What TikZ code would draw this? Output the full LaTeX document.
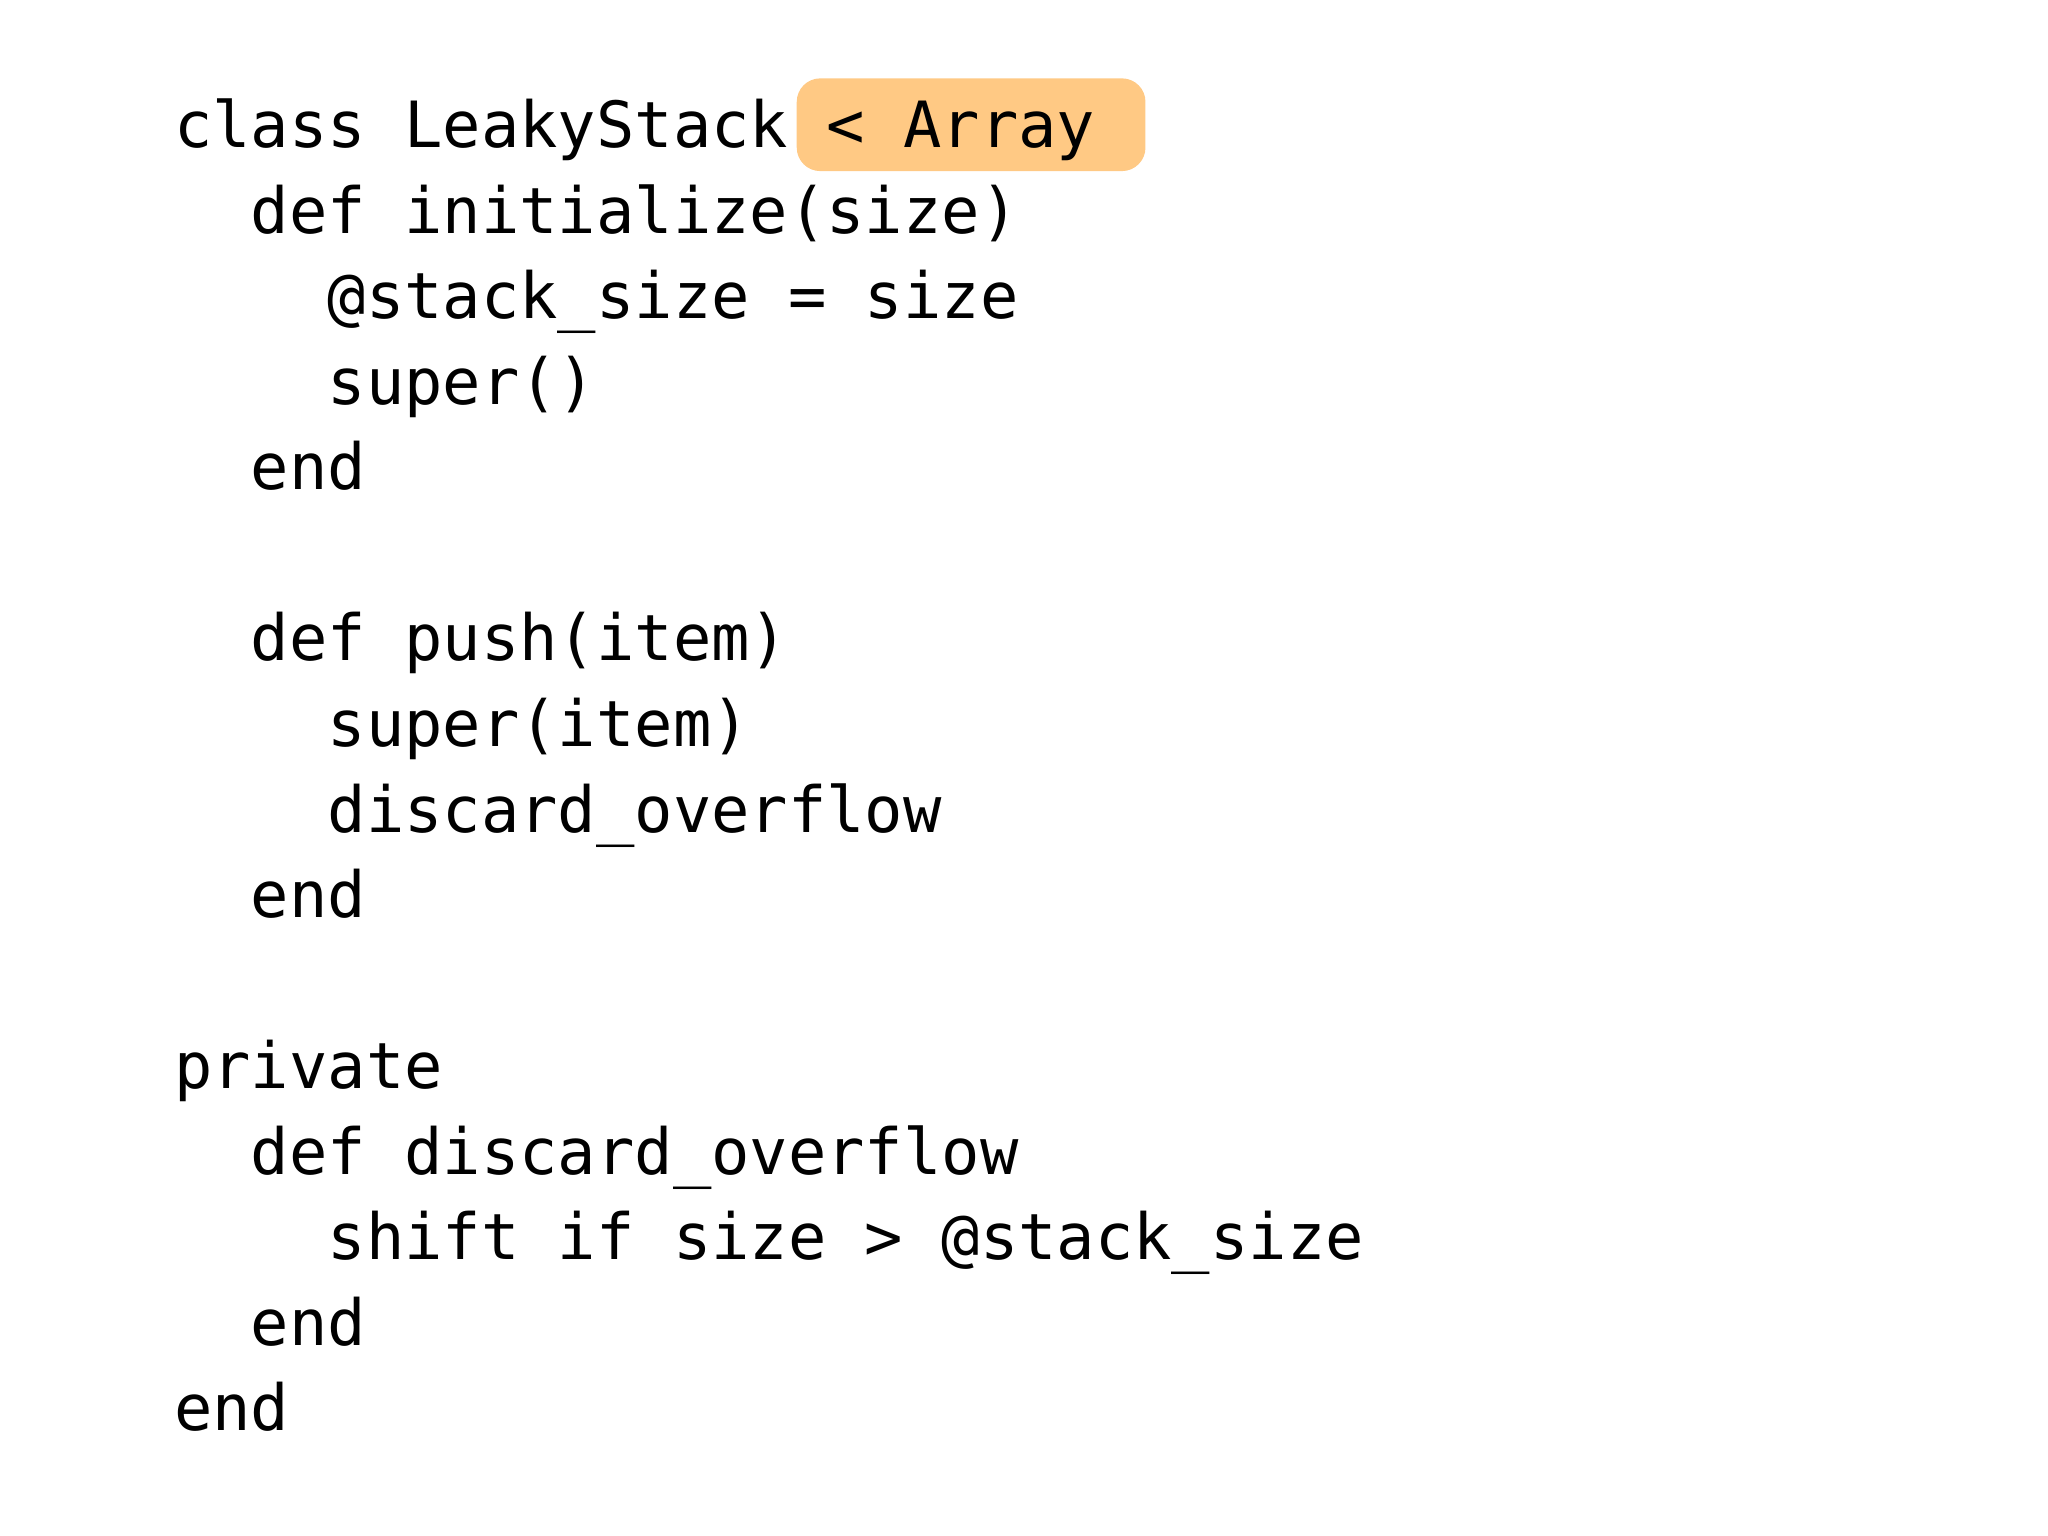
\documentclass[tikz,border=0pt]{standalone}
\usepackage{fontspec}
\setmonofont{DejaVu Sans Mono}
\definecolor{hl}{HTML}{FFC984}
\tikzset{code/.style={anchor=base west,inner sep=0pt,font=\ttfamily\fontsize{24.4pt}{30pt}\selectfont,text=black}}
\begin{document}
\begin{tikzpicture}[x=0.5pt,y=-0.5pt]
\useasboundingbox (0,0) rectangle (1568,1176);
\fill[hl,rounded corners=9pt] (610,60) rectangle (877,131);
\node[code] (l0) at (133,113) {class LeakyStack < Array};
\node[code] (l1) at (133,178.5) {\ \ def initialize(size)};
\node[code] (l2) at (133,244) {\ \ \ \ @stack\_size = size};
\node[code] (l3) at (133,309.5) {\ \ \ \ super()};
\node[code] (l4) at (133,375) {\ \ end};
\node[code] (l6) at (133,506) {\ \ def push(item)};
\node[code] (l7) at (133,571.5) {\ \ \ \ super(item)};
\node[code] (l8) at (133,637) {\ \ \ \ discard\_overflow};
\node[code] (l9) at (133,702.5) {\ \ end};
\node[code] (l11) at (133,833.5) {private};
\node[code] (l12) at (133,899) {\ \ def discard\_overflow};
\node[code] (l13) at (133,964.5) {\ \ \ \ shift if size > @stack\_size};
\node[code] (l14) at (133,1030) {\ \ end};
\node[code] (l15) at (133,1095.5) {end};
\end{tikzpicture}
\end{document}
